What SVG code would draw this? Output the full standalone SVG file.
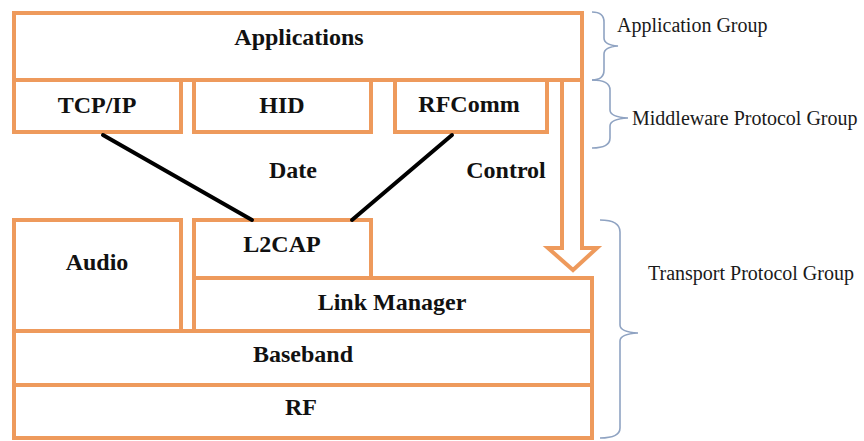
<svg xmlns="http://www.w3.org/2000/svg" width="864" height="441" viewBox="0 0 864 441">
  <style>
    .box { fill: none; stroke: #EE9A5C; stroke-width: 4; }
    .lbl { font-family: 'Liberation Serif', 'DejaVu Serif', serif; font-weight: bold; font-size: 24px; fill: #111; text-anchor: middle; }
    .grp { font-family: 'Liberation Serif', 'DejaVu Serif', serif; font-size: 20px; fill: #1a1a1a; }
    .brace { fill: none; stroke: #8FA3C2; stroke-width: 1.6; }
    .link { stroke: #000; stroke-width: 4; stroke-linecap: round; }
  </style>
  <rect width="864" height="441" fill="#fff"/>

  <!-- upper stack -->
  <g id="applications">
    <rect class="box" x="14" y="13" width="568" height="67"/>
    <text class="lbl" x="299" y="45" font-family="Liberation Serif, serif">Applications</text>
  </g>
  <g id="tcpip">
    <rect class="box" x="14" y="80" width="167" height="52"/>
    <text class="lbl" x="97" y="113" font-family="Liberation Serif, serif">TCP/IP</text>
  </g>
  <g id="hid">
    <rect class="box" x="194" y="80" width="177" height="52"/>
    <text class="lbl" x="282" y="113" font-family="Liberation Serif, serif">HID</text>
  </g>
  <g id="rfcomm">
    <rect class="box" x="395" y="80" width="152" height="52"/>
    <text class="lbl" x="469" y="112" font-family="Liberation Serif, serif">RFComm</text>
  </g>

  <!-- lower stack -->
  <g id="audio">
    <rect class="box" x="14" y="220" width="167" height="111"/>
    <text class="lbl" x="97" y="270" font-family="Liberation Serif, serif">Audio</text>
  </g>
  <g id="l2cap">
    <rect class="box" x="194" y="220" width="177" height="58"/>
    <text class="lbl" x="282" y="252" font-family="Liberation Serif, serif">L2CAP</text>
  </g>
  <g id="link-manager">
    <rect class="box" x="194" y="278" width="398" height="53"/>
    <text class="lbl" x="392" y="310" font-family="Liberation Serif, serif">Link Manager</text>
  </g>
  <g id="baseband">
    <rect class="box" x="14" y="331" width="578" height="54"/>
    <text class="lbl" x="303" y="362" font-family="Liberation Serif, serif">Baseband</text>
  </g>
  <g id="rf">
    <rect class="box" x="14" y="385" width="578" height="53"/>
    <text class="lbl" x="301" y="415" font-family="Liberation Serif, serif">RF</text>
  </g>

  <!-- connectors -->
  <g id="connectors">
    <line class="link" x1="103" y1="135" x2="252" y2="220"/>
    <line class="link" x1="452" y1="135" x2="352" y2="220"/>
    <text class="lbl" x="293" y="178" font-family="Liberation Serif, serif">Date</text>
    <text class="lbl" x="506" y="178" font-family="Liberation Serif, serif">Control</text>
    <!-- hollow control arrow -->
    <polyline class="box" stroke-linejoin="miter" points="562,80 562,248 548,248 573,270 597,248 582,248 582,80"/>
  </g>

  <!-- group braces -->
  <g id="application-group">
    <path class="brace" d="M592,12 Q604,12 604,22 L604,38 Q604,45 618,46 Q604,47 604,54 L604,70 Q604,80 592,80"/>
    <text class="grp" x="617" y="32" font-family="Liberation Serif, serif">Application Group</text>
  </g>
  <g id="middleware-group">
    <path class="brace" d="M592,80 Q610,80 610,90 L610,110 Q610,117 628,118 Q610,119 610,126 L610,138 Q610,148 592,148"/>
    <text class="grp" x="632" y="125" font-family="Liberation Serif, serif">Middleware Protocol Group</text>
  </g>
  <g id="transport-group">
    <path class="brace" d="M600,220 Q620,220 620,232 L620,325 Q620,332 638,333 Q620,334 620,341 L620,428 Q620,438 600,438"/>
    <text class="grp" x="648" y="280" font-family="Liberation Serif, serif">Transport Protocol Group</text>
  </g>
</svg>
